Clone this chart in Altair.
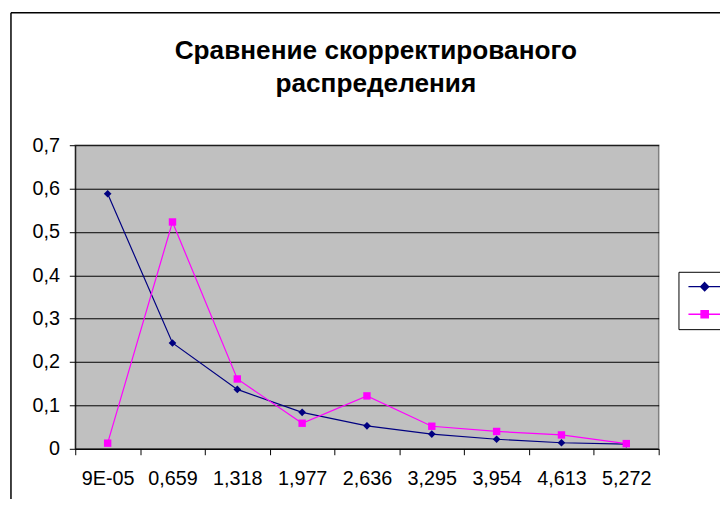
import altair as alt
import pandas as pd

categories = ["9E-05", "0,659", "1,318", "1,977", "2,636", "3,295", "3,954", "4,613", "5,272"]
series_a = [0.588, 0.244, 0.137, 0.084, 0.053, 0.034, 0.022, 0.014, 0.011]
series_b = [0.013, 0.523, 0.161, 0.059, 0.122, 0.052, 0.040, 0.032, 0.012]
series_names = ["Ряд1", "Ряд2"]
y_ticks = [0, 0.1, 0.2, 0.3, 0.4, 0.5, 0.6, 0.7]
title_lines = ["Сравнение скорректированого", "распределения"]

rows = []
for name, vals in zip(series_names, [series_a, series_b]):
    for c, v in zip(categories, vals):
        rows.append({"x": c, "y": v, "series": name})
df = pd.DataFrame(rows)

FONT = "Liberation Sans"
colors = ["#000080", "#FF00FF"]

xenc = alt.X(
    "x:N",
    sort=categories,
    scale=alt.Scale(type="band", paddingInner=0, paddingOuter=0),
    axis=alt.Axis(
        title=None, labelAngle=0, tickBand="extent", grid=False,
        labelFont=FONT, labelFontSize=20, labelColor="#000",
        tickColor="#000", tickSize=6, domainColor="#000", labelPadding=14,
    ),
)
yenc = alt.Y(
    "y:Q",
    scale=alt.Scale(domain=[0, 0.7], nice=False, zero=True),
    axis=alt.Axis(
        title=None, values=y_ticks, grid=True, gridColor="#000", gridWidth=1,
        gridOpacity=1,
        labelExpr="datum.value == 0 ? '0' : replace(format(datum.value, '.1f'), '.', ',')",
        labelFont=FONT, labelFontSize=20, labelColor="#000",
        tickColor="#000", tickSize=6, domainColor="#000", labelPadding=10,
    ),
)

legend_paths = ["M-4.1,0H4.1M0,-1L1,0L0,1L-1,0Z", "M-4.1,0H4.1M-0.9,-0.9H0.9V0.9H-0.9Z"]

main_legend = alt.Legend(
    title=None, orient="none", legendX=610, legendY=128,
    strokeColor="#000", fillColor="#fff", padding=8, symbolOffset=11.5,
    symbolSize=64, symbolStrokeWidth=1.5, symbolOpacity=1,
    labelFont=FONT, labelFontSize=14, labelOffset=40, rowPadding=14,
    labelExpr="''",
)
aux_legend = alt.Legend(title=None)

base = alt.Chart(df)
lines = base.mark_line(strokeWidth=1.2).encode(
    x=xenc, y=yenc,
    color=alt.Color("series:N", scale=alt.Scale(domain=series_names, range=colors),
                    legend=main_legend),
)
pts_a = base.transform_filter(alt.datum.series == series_names[0]).mark_point(
    filled=True, opacity=1, size=60, shape="diamond", color=colors[0]).encode(x=xenc, y=yenc)
pts_b = base.transform_filter(alt.datum.series == series_names[1]).mark_point(
    filled=True, opacity=1, size=56, shape="square", color=colors[1]).encode(x=xenc, y=yenc)

legend_layer = base.mark_point(filled=True, size=0, opacity=1).encode(
    x=xenc, y=yenc,
    fill=alt.Fill("series:N", scale=alt.Scale(domain=series_names, range=colors), legend=aux_legend),
    stroke=alt.Stroke("series:N", scale=alt.Scale(domain=series_names, range=colors), legend=aux_legend),
    shape=alt.Shape("series:N", scale=alt.Scale(domain=series_names, range=legend_paths), legend=aux_legend),
)

frame_df = pd.DataFrame({"a": [0]})
frame_left = alt.Chart(frame_df).mark_rule(color="#000", strokeWidth=1.5).encode(
    x=alt.value(-65), y=alt.value(-134), y2=alt.value(363))
frame_top = alt.Chart(frame_df).mark_rule(color="#000", strokeWidth=1.5).encode(
    x=alt.value(-65), x2=alt.value(660), y=alt.value(-134))

chart = alt.layer(frame_left, frame_top, lines, pts_a, pts_b, legend_layer).properties(
    width=590, height=307,
    title=alt.TitleParams(
        text=title_lines, font=FONT, fontSize=26.5, fontWeight="bold", color="#000",
        anchor="middle", frame="group", dx=9, offset=-86, lineHeight=33,
    ),
    autosize=alt.AutoSizeParams(type="none"),
    padding={"left": 68, "top": 136, "right": 62, "bottom": 48},
).configure(background="#fff").configure_view(fill="#C0C0C0", stroke="#808080", strokeWidth=1.5)

chart.save("out.html", embed_options={"renderer": "svg", "actions": False})
